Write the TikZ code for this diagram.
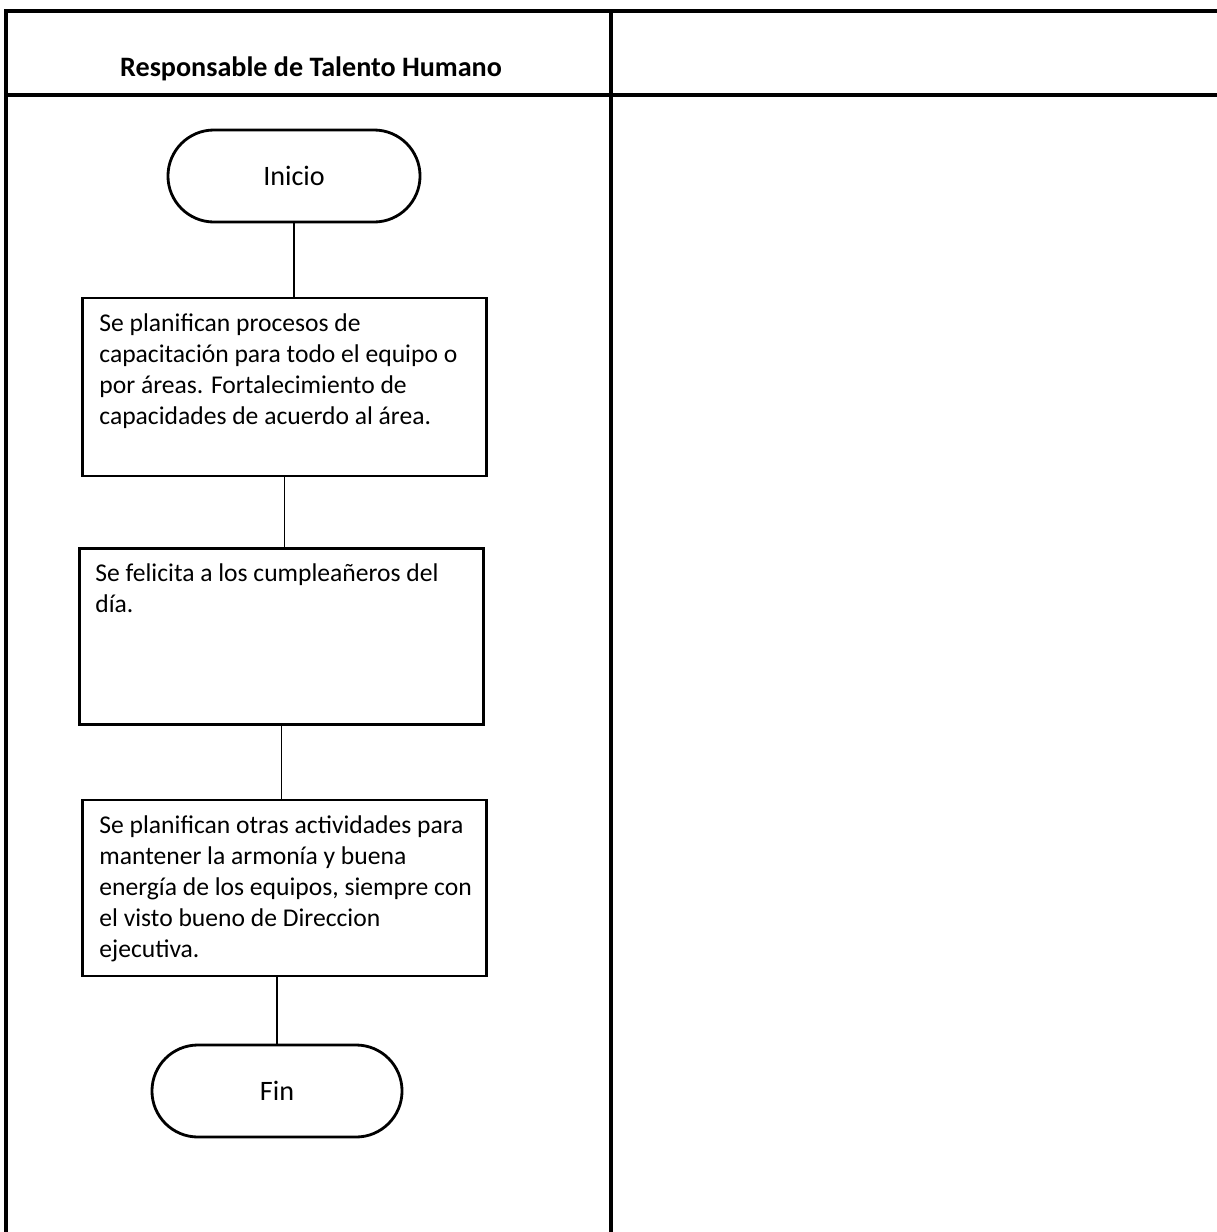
\documentclass[tikz,border=0pt]{standalone}
\usepackage{fontspec}
\setmainfont{Carlito}
\usepackage{tikz}
\usetikzlibrary{calc,positioning}

\begin{document}
\begin{tikzpicture}[x=0.025cm, y=-0.025cm,
    lane/.style={line width=2.2pt},
    term/.style={draw, line width=2pt, rounded corners=1.15cm,
      minimum width=6.3cm, minimum height=2.3cm,
      font=\fontsize{20}{24}\selectfont},
    proc/.style={draw, line width=1.9pt, minimum width=10.1cm, minimum height=4.45cm},
    txt/.style={anchor=north west, inner sep=0pt, align=left,
      font=\fontsize{18.2}{22}\selectfont},
    link/.style={line width=1pt}]

    \useasboundingbox (0,0) rectangle (1217,1232);

    % Carriles
    \draw[lane] (6,1232) -- (6,11) -- (1217,11);
    \draw[lane] (6,95) -- (1217,95);
    \draw[lane] (611,11) -- (611,1232);
    \node[font=\bfseries\fontsize{20}{24}\selectfont] (carril) at (311,69)
      {Responsable de Talento Humano};

    % Nodos
    \node[term] (inicio) at (294,176) {Inicio};
    \node[proc] (plan) at (284.5,387) {};
    \node[proc, minimum height=4.4cm] (feli) at (281.5,636.5) {};
    \node[proc, minimum height=4.4cm] (otras) at (284.5,888) {};
    \node[term, minimum width=6.25cm] (fin) at (277,1091) {Fin};

    % Textos
    \node[txt] (plantxt) at ($(plan.north west)+(18,17)$)
      {Se planifican procesos de\\capacitación para todo el equipo o\\por áreas. Fortalecimiento de\\capacidades de acuerdo al área.};
    \node[txt] (felitxt) at ($(feli.north west)+(17,16)$)
      {Se felicita a los cumpleañeros del\\día.};
    \node[txt] (otrastxt) at ($(otras.north west)+(18,17)$)
      {Se planifican otras actividades para\\mantener la armonía y buena\\energía de los equipos, siempre con\\el visto bueno de Direccion\\ejecutiva.};

    % Conectores
    \draw[link] (inicio.south) -- (inicio.south |- plan.north);
    \draw[link] (plan.south) -- (plan.south |- feli.north);
    \draw[link] (feli.south) -- (feli.south |- otras.north);
    \draw[link] (fin.north |- otras.south) -- (fin.north);
\end{tikzpicture}
\end{document}
